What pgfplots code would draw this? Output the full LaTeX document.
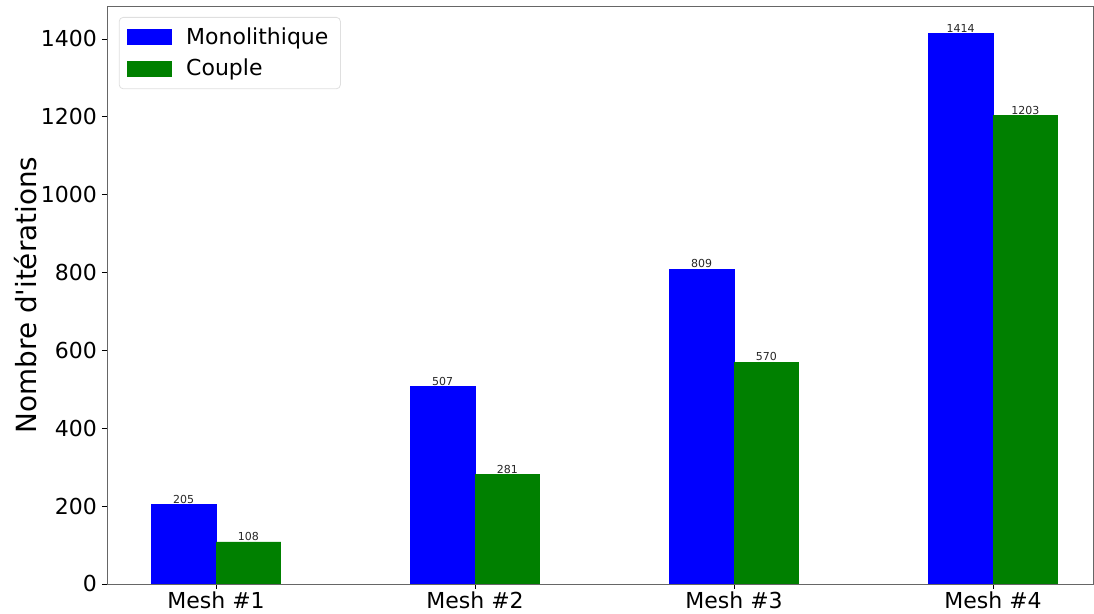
\documentclass[border=0pt]{standalone}
\usepackage{pgfplots}
\pgfplotsset{compat=1.18}
\usepackage{fontspec}
\setmainfont{DejaVu Sans}
\definecolor{mblue}{RGB}{0,0,255}
\definecolor{mgreen}{RGB}{0,128,0}
\begin{document}
\begin{tikzpicture}
\begin{axis}[
  name=ax,
  scale only axis,
  width=493pt, height=289pt,
  xmin=-0.421, xmax=3.386,
  ymin=0, ymax=1484.7,
  xtick={0,1,2,3},
  xticklabels={Mesh \#1, Mesh \#2, Mesh \#3, Mesh \#4},
  ytick={0,200,...,1400},
  /pgf/number format/assume math mode=true,
  /pgf/number format/1000 sep={},
  tick label style={font=\fontsize{11pt}{13pt}\selectfont},
  xticklabel style={yshift=2pt},
  yticklabel style={xshift=1pt},
  tick align=outside,
  major tick length=2.5pt,
  tick style={black, line width=0.4pt},
  xtick pos=bottom, ytick pos=left,
  axis line style={gray!80!black, line width=0.4pt},
  ylabel={Nombre d\textquotesingle itérations},
  ylabel style={font=\fontsize{13.9pt}{15pt}\selectfont, yshift=-5pt},
  ybar,
  bar width=0.25,
  nodes near coords,
  every node near coord/.append style={font=\fontsize{5.5pt}{6pt}\selectfont, inner sep=0.3pt, anchor=south, text=black!85},
  legend style={at={(0.012,0.981)}, anchor=north west, draw=gray!25, rounded corners=2pt, fill=white,
    font=\fontsize{11pt}{13pt}\selectfont, row sep=2pt, inner xsep=4pt, inner ysep=3pt,
    /tikz/every odd column/.append style={column sep=5pt}},
  legend cell align=left,
  legend image code/.code={\fill[#1, draw=none, sharp corners] (0pt,-4pt) rectangle (22.5pt,4pt);},
]
\addplot[fill=mblue, draw=mblue, bar shift=-0.125] coordinates {(0,205) (1,507) (2,809) (3,1414)};
\addlegendentry{Monolithique}
\addplot[fill=mgreen, draw=mgreen, bar shift=0.125] coordinates {(0,108) (1,281) (2,570) (3,1203)};
\addlegendentry{Couple}
\end{axis}
\pgfresetboundingbox
\path[use as bounding box] ([xshift=-53.5pt,yshift=-15pt]ax.south west) rectangle ([xshift=0.5pt,yshift=3pt]ax.north east);
\end{tikzpicture}
\end{document}
